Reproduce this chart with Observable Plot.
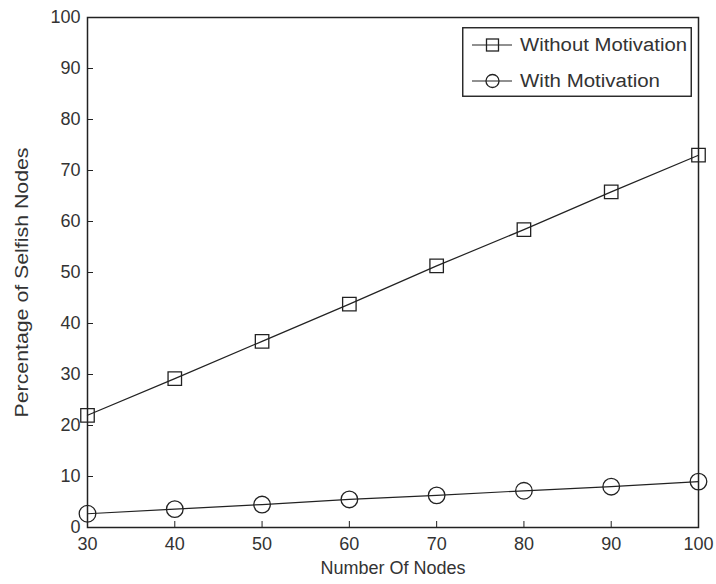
<!DOCTYPE html>
<html>
<head>
<meta charset="utf-8">
<script src="https://cdn.jsdelivr.net/npm/d3@7"></script>
<script src="https://cdn.jsdelivr.net/npm/@observablehq/plot@0.6"></script>
<style>
  html, body { margin: 0; padding: 0; background: #fff; }
  #wrap { position: relative; width: 716px; height: 584px; font-family: "Liberation Sans", Arial, sans-serif; }
  #legend { position: absolute; left: 462px; top: 27px; }
</style>
</head>
<body>
<div id="wrap"></div>
<script>
const nodes = [30, 40, 50, 60, 70, 80, 90, 100];
const withoutMotivation = [22.0, 29.2, 36.5, 43.8, 51.3, 58.4, 65.8, 73.0];
const withMotivation = [2.7, 3.6, 4.5, 5.5, 6.3, 7.2, 8.0, 9.0];
const seriesNames = ["Without Motivation", "With Motivation"];
const xTicks = [30, 40, 50, 60, 70, 80, 90, 100];
const yTicks = [0, 10, 20, 30, 40, 50, 60, 70, 80, 90, 100];

const rowsA = nodes.map((n, i) => ({x: n, y: withoutMotivation[i]}));
const rowsB = nodes.map((n, i) => ({x: n, y: withMotivation[i]}));

const ink = "#222";
const txt = "#333";
const chart = Plot.plot({
  width: 716,
  height: 584,
  marginLeft: 87,
  marginRight: 18,
  marginTop: 17,
  marginBottom: 57,
  style: {fontFamily: "Liberation Sans, Arial, sans-serif", fontSize: "18px", color: txt, background: "#fff"},
  x: {domain: [30, 100], ticks: xTicks},
  y: {domain: [0, 100], ticks: yTicks},
  marks: [
    Plot.line(rowsA, {x: "x", y: "y", stroke: ink, strokeWidth: 1.2}),
    Plot.line(rowsB, {x: "x", y: "y", stroke: ink, strokeWidth: 1.2}),
    Plot.dot(rowsA, {x: "x", y: "y", symbol: "square", r: 7.6, stroke: ink, strokeWidth: 1.3, fill: "none"}),
    Plot.dot(rowsB, {x: "x", y: "y", symbol: "circle", r: 8.3, stroke: ink, strokeWidth: 1.3, fill: "none"}),
    Plot.frame({stroke: ink, strokeWidth: 1.5}),
    Plot.axisY({ticks: yTicks, tickSize: -6, tickPadding: 13, tickFormat: d => String(d), label: null, fontSize: 18, stroke: ink}),
    Plot.axisY({ticks: [], tickSize: 0, label: "Percentage of Selfish Nodes", labelAnchor: "center", labelArrow: "none", labelOffset: 72, fontSize: 18}),
    Plot.axisX({ticks: xTicks, tickSize: -6, tickPadding: 16, tickFormat: d => String(d), label: null, fontSize: 18, stroke: ink}),
    Plot.axisX({ticks: [], tickSize: 0, label: "Number Of Nodes", labelAnchor: "center", labelArrow: "none", labelOffset: 46, fontSize: 18})
  ]
});
const wrap = document.getElementById("wrap");
wrap.appendChild(chart);

// stretch the y label to match the reference's long rendering, and nudge it down
d3.select(chart).selectAll('g[aria-label="y-axis label"]').each(function() {
  const g = d3.select(this);
  const t = g.attr("transform") || "";
  g.attr("transform", `translate(0,10) ${t}`);
  g.selectAll("text").attr("textLength", 270).attr("lengthAdjust", "spacingAndGlyphs");
});

// legend
const lw = 230, lh = 70;
const legend = d3.create("svg").attr("id", "legend").attr("width", lw).attr("height", lh)
  .style("font-family", "Liberation Sans, Arial, sans-serif");
legend.append("rect").attr("x", 0.75).attr("y", 0.75).attr("width", lw - 1.5).attr("height", lh - 1.5)
  .attr("fill", "#fff").attr("stroke", ink).attr("stroke-width", 1.4);
const rowY = [18, 54];
const textLen = [167, 140];
seriesNames.forEach((name, i) => {
  const g = legend.append("g").attr("transform", `translate(0,${rowY[i]})`);
  g.append("line").attr("x1", 10).attr("x2", 50).attr("y1", 0).attr("y2", 0).attr("stroke", ink).attr("stroke-width", 1.2);
  if (i === 0) g.append("rect").attr("x", 24.5).attr("y", -6).attr("width", 12).attr("height", 12).attr("fill", "none").attr("stroke", ink).attr("stroke-width", 1.3);
  else g.append("circle").attr("cx", 30.5).attr("cy", 0).attr("r", 6.5).attr("fill", "none").attr("stroke", ink).attr("stroke-width", 1.3);
  g.append("text").attr("x", 58).attr("y", 0).attr("dy", "0.35em").attr("font-size", 18).attr("fill", txt)
    .attr("textLength", textLen[i]).attr("lengthAdjust", "spacingAndGlyphs").text(name);
});
wrap.appendChild(legend.node());
</script>
</body>
</html>
